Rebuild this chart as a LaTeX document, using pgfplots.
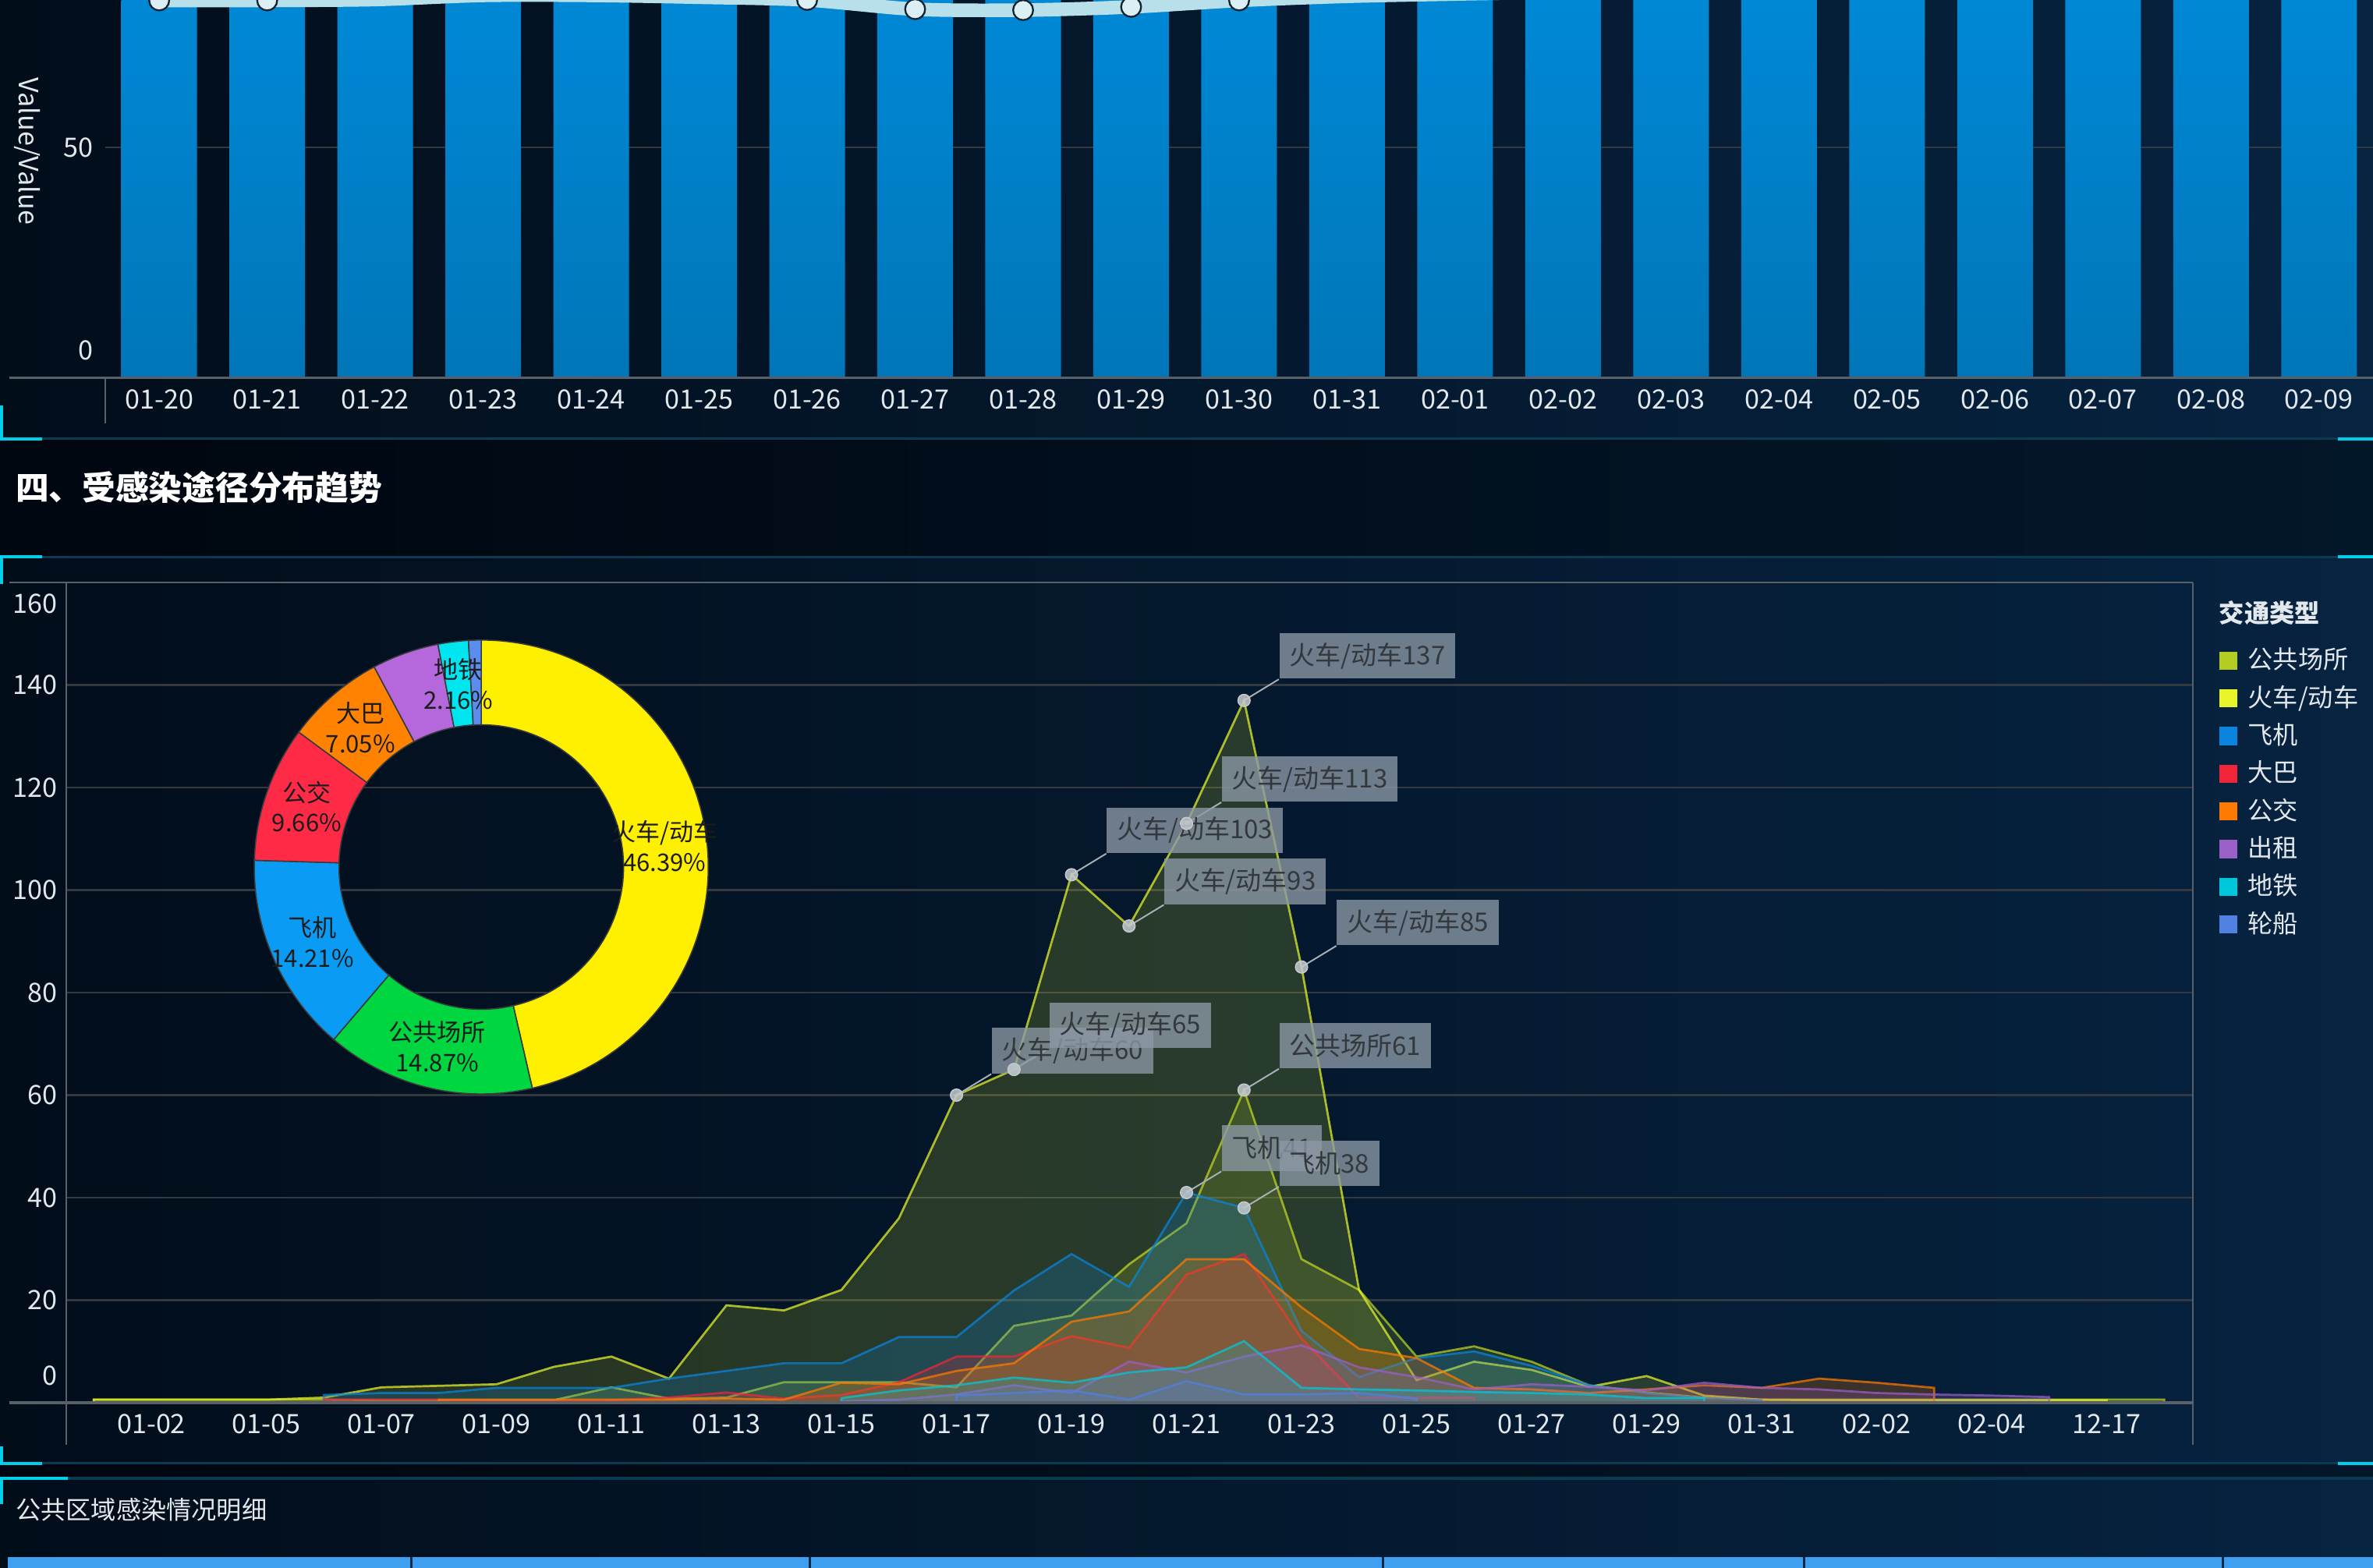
\documentclass[border=0pt]{standalone}
\usepackage{pgfplots}
\pgfplotsset{compat=1.18}
\usepackage{fontspec}
\setmainfont{Noto Sans CJK SC}
\usetikzlibrary{calc}

\definecolor{bgL}{HTML}{020D1A}
\definecolor{bgR}{HTML}{062340}
\definecolor{hdL}{HTML}{00060F}
\definecolor{hdR}{HTML}{03172A}
\definecolor{panelline}{HTML}{0B3B50}
\definecolor{accent}{HTML}{00CFEA}
\definecolor{ticktext}{HTML}{E2E8EC}
\definecolor{gridc}{HTML}{34393F}
\definecolor{axisc}{HTML}{5A6068}
\definecolor{barTop}{HTML}{008CDC}
\definecolor{barBot}{HTML}{0076B8}
\definecolor{lineband}{HTML}{B8E0EB}
\definecolor{mkfill}{HTML}{DCEFF5}
\definecolor{mkdraw}{HTML}{16222E}
\definecolor{sA}{HTML}{B5CC22}
\definecolor{sB}{HTML}{E8F52A}
\definecolor{sC}{HTML}{0A84DC}
\definecolor{sD}{HTML}{F0253A}
\definecolor{sE}{HTML}{FF7A00}
\definecolor{sF}{HTML}{9B5FC8}
\definecolor{sG}{HTML}{00C8DC}
\definecolor{sH}{HTML}{5080E0}
\definecolor{pieY}{HTML}{FFF000}
\definecolor{pieG}{HTML}{00D63F}
\definecolor{pieB}{HTML}{0A9CF5}
\definecolor{pieR}{HTML}{FF2A45}
\definecolor{pieO}{HTML}{FF8200}
\definecolor{pieP}{HTML}{B468DC}
\definecolor{pieC}{HTML}{00E6F0}
\definecolor{pieL}{HTML}{5B8DEF}
\definecolor{pieedge}{HTML}{3A3A3A}
\definecolor{pietext}{HTML}{1C1C1C}
\definecolor{lblfill}{HTML}{8C99A6}
\definecolor{lbltext}{HTML}{33383D}
\definecolor{leadc}{HTML}{A8B0B8}
\definecolor{mk2}{HTML}{C4CACF}
\definecolor{tablehead}{HTML}{3FA0F2}
\definecolor{tablediv}{HTML}{0A2A4A}

\newcommand\tickfont{\fontsize{8.8pt}{10pt}\selectfont}

\begin{document}
\begin{tikzpicture}
\useasboundingbox (0pt,0pt) rectangle (784pt,518pt);
\clip (0pt,0pt) rectangle (784pt,518pt);
\begin{scope}[x=0.5pt,y=0.5pt]
\shade[left color=bgL, right color=bgR] (0,0) rectangle (1568,1036);
\shade[left color=hdL, right color=hdR] (0,669) rectangle (1568,745);
\shade[left color=hdL, right color=hdR] (0,59) rectangle (1568,69);
\draw[panelline, line width=0.8pt] (0,746) -- (1568,746);
\draw[panelline, line width=0.8pt] (0,668) -- (1568,668);
\draw[panelline, line width=0.8pt] (0,69) -- (1568,69);
\draw[panelline, line width=0.8pt] (0,59) -- (1568,59);
\draw[accent, line width=1pt] (0,746) -- (28,746);
\draw[accent, line width=1pt] (1,746) -- (1,768);
\draw[accent, line width=1pt] (1545,746) -- (1568,746);
\draw[accent, line width=1pt] (0,668) -- (28,668);
\draw[accent, line width=1pt] (1,668) -- (1,650);
\draw[accent, line width=1pt] (1545,668) -- (1568,668);
\draw[accent, line width=1pt] (0,69) -- (28,69);
\draw[accent, line width=1pt] (1,69) -- (1,80);
\draw[accent, line width=1pt] (1545,69) -- (1568,69);
\draw[accent, line width=1pt] (0,59) -- (45,59);
\draw[accent, line width=1pt] (1,59) -- (1,42);
\end{scope}

% ---------- top chart ----------
\begin{axis}[at={(34.75pt,393.25pt)}, anchor=south west, scale only axis,
  width=749.25pt, height=124.75pt,
  xmin=-0.5, xmax=20.5, ymin=0, ymax=82,
  axis line style={draw=none}, major tick length=0pt,
  ymajorgrids, grid style={gridc, line width=0.6pt},
  xtick={0,...,20},
  xticklabels={01-20,01-21,01-22,01-23,01-24,01-25,01-26,01-27,01-28,01-29,01-30,01-31,02-01,02-02,02-03,02-04,02-05,02-06,02-07,02-08,02-09},
  ytick={0,50}, yticklabels={\raisebox{5.75pt}[0pt][0pt]{0},50},
  /pgf/number format/assume math mode=true,
  xticklabel style={font=\tickfont, text=ticktext, anchor=base, inner sep=0pt, yshift=-10.3pt},
  yticklabel style={font=\tickfont, text=ticktext, anchor=east, inner sep=0pt, xshift=-3.8pt},
  clip=true]
\addplot[ybar, bar width=25pt, draw=none, top color=barTop, bottom color=barBot]
 coordinates {(0,100)(1,100)(2,100)(3,100)(4,100)(5,100)(6,100)(7,100)(8,100)(9,100)(10,100)(11,100)(12,100)(13,100)(14,100)(15,100)(16,100)(17,100)(18,100)(19,100)(20,100)};
\addplot[lineband, line width=4.5pt, smooth, mark=*, mark size=3.3pt,
  mark options={fill=mkfill, draw=mkdraw, line width=0.6pt}]
 coordinates {(0,81.9)(1,81.9)(2,82.1)(3,83.0)(4,83.0)(5,82.6)(6,82.0)(7,80.0)(8,79.8)(9,80.5)(10,81.9)(11,82.8)(12,83.3)(13,83.8)(14,85)(15,86)(16,87)(17,88)(18,89)(19,90)(20,91)};
\end{axis}

% ---------- lower chart ----------
\begin{axis}[at={(22pt,54.5pt)}, anchor=south west, scale only axis,
  width=702.5pt, height=271pt,
  xmin=-0.474, xmax=36.5, ymin=0, ymax=160,
  axis line style={draw=none}, major tick length=0pt,
  ymajorgrids, grid style={gridc, line width=0.6pt},
  xtick={1,3,...,35},
  xticklabels={01-02,01-05,01-07,01-09,01-11,01-13,01-15,01-17,01-19,01-21,01-23,01-25,01-27,01-29,01-31,02-02,02-04,12-17},
  ytick={0,20,...,160},
  yticklabels={\raisebox{5.75pt}[0pt][0pt]{0},20,40,60,80,100,120,140,\raisebox{-10.25pt}[0pt][0pt]{160}},
  /pgf/number format/assume math mode=true,
  xticklabel style={font=\tickfont, text=ticktext, anchor=base, inner sep=0pt, yshift=-10.3pt},
  yticklabel style={font=\tickfont, text=ticktext, anchor=east, inner sep=0pt, xshift=-3pt},
  legend style={at={(1.0121,0.9284)}, anchor=north west, draw=none, fill=none,
    inner sep=0pt, row sep=0pt, column sep=3.5pt,
    nodes={inner sep=0pt, minimum height=12.45pt, anchor=west, text=ticktext,
      font=\fontsize{8.3pt}{10pt}\selectfont}},
  legend cell align=left,
  legend image code/.code={\fill[#1] (0pt,-3pt) rectangle (6pt,3pt);},
  clip=true]
\addplot[forget plot, draw=sA, draw opacity=0.75, line width=0.7pt, fill=sA, fill opacity=0.17]
 coordinates {(0,0.6)(1,0.6)(2,0.6)(3,0.6)(4,0.6)(5,0.5)(6,0.5)(7,0.5)(8,0.5)(9,3)(10,0.8)(11,1)(12,4)(13,4)(14,4)(15,3)(16,15)(17,17)(18,27)(19,35)(20,61)(21,28)(22,22)(23,9)(24,11)(25,8)(26,3.4)(27,2)(28,1)(29,0.6)(30,0.6)(31,0.6)(32,0.6)(33,0.6)(34,0.6)(35,0.6)(36,0.6)} \closedcycle;
\addplot[forget plot, draw=sB, draw opacity=0.72, line width=0.7pt, fill=sB, fill opacity=0.16]
 coordinates {(0,0.6)(1,0.6)(2,0.6)(3,0.6)(4,1)(5,3)(6,3.3)(7,3.6)(8,7)(9,9)(10,4.7)(11,19)(12,18)(13,22)(14,36)(15,60)(16,65)(17,103)(18,93)(19,113)(20,137)(21,85)(22,22)(23,4.4)(24,8)(25,6.4)(26,3.1)(27,5.2)(28,1.4)(29,0.6)(30,0.5)(31,0.5)(32,0.5)(33,0.5)(34,0.5)(35,0.5)} \closedcycle;
\addplot[forget plot, draw=sC, draw opacity=0.72, line width=0.7pt, fill=sC, fill opacity=0.22]
 coordinates {(4,1.5)(5,1.9)(6,1.9)(7,2.9)(8,2.9)(9,2.9)(10,4.7)(11,6.2)(12,7.7)(13,7.7)(14,12.8)(15,12.8)(16,21.9)(17,29)(18,22.6)(19,41)(20,38)(21,14)(22,5)(23,8.7)(24,10)(25,7.2)(26,3.4)(27,1.9)(28,0.9)(29,0.5)} \closedcycle;
\addplot[forget plot, draw=sD, draw opacity=0.72, line width=0.7pt, fill=sD, fill opacity=0.22]
 coordinates {(4,0.6)(5,0.6)(6,0.6)(7,0.3)(8,0.3)(9,0.5)(10,1)(11,2)(12,0.8)(13,1.5)(14,4)(15,9)(16,9)(17,13)(18,10.7)(19,25)(20,29)(21,12.5)(22,1)(23,1)(24,1)} \closedcycle;
\addplot[forget plot, draw=sE, draw opacity=0.72, line width=0.7pt, fill=sE, fill opacity=0.22]
 coordinates {(6,0.6)(7,0.6)(8,0.6)(9,0.6)(10,0.6)(11,0.8)(12,0.6)(13,3.9)(14,3.6)(15,6.2)(16,7.7)(17,15.8)(18,17.8)(19,28)(20,28)(21,18.6)(22,10.5)(23,8.7)(24,2.9)(25,2.6)(26,1.9)(27,2.6)(28,3.4)(29,2.9)(30,4.7)(31,3.9)(32,2.9)} \closedcycle;
\addplot[forget plot, draw=sF, draw opacity=0.72, line width=0.7pt, fill=sF, fill opacity=0.22]
 coordinates {(13,0.3)(14,0.6)(15,1.6)(16,3.4)(17,1.9)(18,8)(19,5.9)(20,9)(21,11.2)(22,6.9)(23,5)(24,2.6)(25,3.6)(26,3.1)(27,2.4)(28,3.9)(29,2.9)(30,2.6)(31,1.9)(32,1.6)(33,1.4)(34,1.1)} \closedcycle;
\addplot[forget plot, draw=sG, draw opacity=0.72, line width=0.7pt, fill=sG, fill opacity=0.22]
 coordinates {(13,0.9)(14,2.4)(15,3.4)(16,4.9)(17,3.9)(18,5.9)(19,6.9)(20,12)(21,2.9)(22,2.6)(23,2.4)(24,2.1)(25,1.9)(26,1.6)(27,0.9)(28,0.9)} \closedcycle;
\addplot[forget plot, draw=sH, draw opacity=0.72, line width=0.7pt, fill=sH, fill opacity=0.22]
 coordinates {(15,1.4)(16,1.9)(17,2.4)(18,0.6)(19,4.2)(20,1.6)(21,1.6)(22,1.9)(23,0.8)} \closedcycle;
\addplot[forget plot, draw=leadc, line width=0.5pt, quiver={u=0.605,v=4.13}]
 coordinates {(15,60)(16,65)(17,103)(18,93)(19,113)(20,137)(21,85)(20,61)(19,41)(20,38)};
\addplot[forget plot, only marks, mark=*, mark size=2pt,
  mark options={draw=mk2, fill=mk2, fill opacity=0.85},
  point meta=explicit symbolic, nodes near coords,
  every node near coord/.append style={anchor=south west, xshift=11.5pt, yshift=7pt,
    fill=lblfill, fill opacity=0.78, text opacity=1, text=lbltext,
    font=\fontsize{8.5pt}{10pt}\selectfont, inner xsep=3.3pt, inner ysep=0pt,
    minimum height=15pt}]
 coordinates {(15,60)[火车/动车60] (16,65)[火车/动车65] (17,103)[火车/动车103] (18,93)[火车/动车93] (19,113)[火车/动车113] (20,137)[火车/动车137] (21,85)[火车/动车85] (20,61)[公共场所61] (19,41)[飞机41] (20,38)[飞机38]};
\addlegendimage{fill=sA, draw=none}\addlegendentry{公共场所}
\addlegendimage{fill=sB, draw=none}\addlegendentry{火车/动车}
\addlegendimage{fill=sC, draw=none}\addlegendentry{飞机}
\addlegendimage{fill=sD, draw=none}\addlegendentry{大巴}
\addlegendimage{fill=sE, draw=none}\addlegendentry{公交}
\addlegendimage{fill=sF, draw=none}\addlegendentry{出租}
\addlegendimage{fill=sG, draw=none}\addlegendentry{地铁}
\addlegendimage{fill=sH, draw=none}\addlegendentry{轮船}
\end{axis}

\begin{scope}[x=0.5pt,y=0.5pt]
\draw[axisc, line width=0.7pt] (6,786.5) -- (1568,786.5);
\draw[axisc, line width=0.5pt] (69.5,786.5) -- (69.5,756);
\node[rotate=-90, font=\fontsize{8.8pt}{10pt}\selectfont, text=ticktext] at (18,936) {Value/Value};
\node[anchor=west, font=\fontsize{11pt}{13pt}\selectfont\bfseries, text=white, inner sep=0pt] at (10,714) {四、受感染途径分布趋势};
\draw[axisc, line width=0.5pt] (6,651) -- (1449,651);
\draw[axisc, line width=0.5pt] (44,651) -- (44,81);
\draw[axisc, line width=0.5pt] (1449,651) -- (1449,81);
\draw[axisc, line width=0.9pt] (6,109) -- (1449,109);
\node[anchor=west, font=\fontsize{8.3pt}{10pt}\selectfont\bfseries, text=ticktext, inner sep=0pt] at (1466,631) {交通类型};
\def\startang{90}
\foreach \v/\c in {46.39/pieY, 14.87/pieG, 14.21/pieB, 9.66/pieR, 7.05/pieO, 4.76/pieP, 2.16/pieC, 0.90/pieL}{
  \pgfmathsetmacro\endang{\startang-3.6*\v}
  \filldraw[fill=\c, draw=pieedge, line width=0.4pt]
    ($(318,463)+(\startang:75pt)$) arc[start angle=\startang, end angle=\endang, radius=75pt]
    -- ($(318,463)+(\endang:47pt)$) arc[start angle=\endang, end angle=\startang, radius=47pt] -- cycle;
  \xdef\startang{\endang}
}
\tikzset{pielbl/.style={align=center, text=pietext, font=\fontsize{8pt}{10pt}\selectfont, inner sep=0pt}}
\node[pielbl] at ($(318,463)+(6.498:61pt)$) {火车/动车\\46.39\%};
\node[pielbl] at ($(318,463)+(-103.77:61pt)$) {公共场所\\14.87\%};
\node[pielbl] at ($(318,463)+(-156.114:61pt)$) {飞机\\14.21\%};
\node[pielbl] at ($(318,463)+(-199.08:61pt)$) {公交\\9.66\%};
\node[pielbl] at ($(318,463)+(-229.158:61pt)$) {大巴\\7.05\%};
\node[pielbl] at ($(318,463)+(-262.872:61pt)$) {地铁\\2.16\%};
\node[anchor=west, font=\fontsize{8.3pt}{10pt}\selectfont, text=ticktext, inner sep=0pt] at (10,38) {公共区域感染情况明细};
\fill[tablehead] (5,0) rectangle (1568,7);
\foreach \xx in {272,535,914,1192,1469}{\draw[tablediv, line width=0.8pt] (\xx,0) -- (\xx,7);}
\end{scope}
\end{tikzpicture}
\end{document}
